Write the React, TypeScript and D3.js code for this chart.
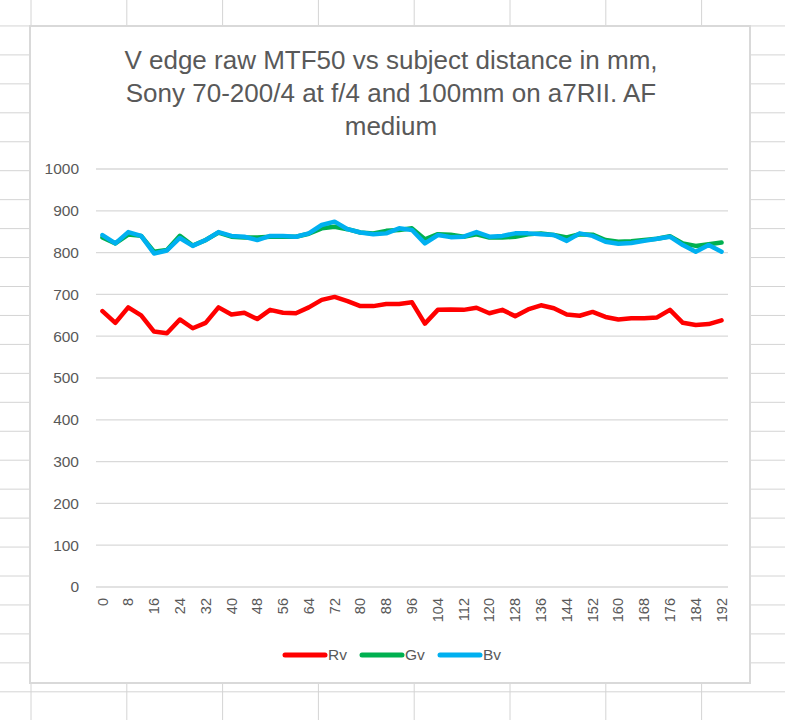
import React from "react";
import * as d3 from "d3";

const distances: number[] = d3.range(0, 193, 4);
const tickLabels: number[] = d3.range(0, 193, 8);
const yTicks: number[] = [0, 100, 200, 300, 400, 500, 600, 700, 800, 900, 1000];

const rv: number[] = [660, 632, 669, 650, 611, 607, 640, 619, 632, 669, 652, 656, 641, 663, 656, 655, 669, 687, 694, 684, 672, 672, 677, 677, 681, 630, 663, 664, 663, 668, 655, 663, 648, 664, 674, 667, 652, 649, 658, 646, 640, 643, 643, 645, 663, 632, 627, 629, 638];
const gv: number[] = [836, 822, 843, 840, 802, 806, 840, 817, 830, 848, 838, 836, 836, 838, 838, 838, 845, 858, 862, 856, 848, 846, 852, 854, 858, 832, 844, 843, 838, 844, 836, 836, 838, 844, 846, 842, 836, 844, 843, 830, 826, 827, 830, 833, 839, 822, 816, 820, 824];
const bv: number[] = [842, 822, 849, 840, 798, 805, 835, 816, 830, 849, 840, 838, 830, 840, 840, 838, 846, 866, 874, 856, 848, 844, 846, 858, 854, 822, 842, 837, 838, 849, 838, 840, 846, 846, 844, 842, 828, 846, 840, 826, 821, 823, 828, 833, 838, 818, 802, 818, 802];

const seriesNames = ["Rv", "Gv", "Bv"];
const seriesColors = ["#FF0000", "#00B050", "#00B0F0"];
const titleLines = [
  "V edge raw MTF50 vs subject distance in mm,",
  "Sony 70-200/4 at f/4 and 100mm on a7RII. AF",
  "medium",
];

const W = 785;
const H = 720;
const FONT = "'Liberation Sans', Arial, sans-serif";
const TXT = "#595959";

export default function App() {
  const x = d3
    .scaleBand<number>()
    .domain(distances)
    .range([96, 728]);
  const y = d3.scaleLinear().domain([0, 1000]).range([587, 169]);
  const cx = (d: number) => (x(d) as number) + x.bandwidth() / 2;

  const line = d3
    .line<number>()
    .x((_, i) => cx(distances[i]))
    .y((v) => y(v));

  const data = [rv, gv, bv];

  const colX = d3.range(31, W, 95.8);
  const rowY = d3.range(-3, H + 1, 28.95);

  const legendX = [285, 362, 440];

  return (
    <svg
      width={W}
      height={H}
      style={{ position: "absolute", left: 0, top: 0, background: "#fff" }}
      fontFamily={FONT}
    >
      <rect x={0} y={0} width={W} height={H} fill="#fff" />
      {colX.map((cxv, i) => (
        <line key={"c" + i} x1={cxv} x2={cxv} y1={0} y2={H} stroke="#d4d4d4" strokeWidth={1} />
      ))}
      {rowY.map((ry, i) => (
        <line key={"r" + i} x1={0} x2={W} y1={ry} y2={ry} stroke="#d4d4d4" strokeWidth={1} />
      ))}
      <rect x={30} y={26} width={720} height={657} fill="#fff" stroke="#d9d9d9" strokeWidth={2} />

      {titleLines.map((t, i) => (
        <text key={"t" + i} x={391} y={69 + i * 33} textAnchor="middle" fontSize={26} fill={TXT}>
          {t}
        </text>
      ))}

      {yTicks.map((t) => (
        <g key={"y" + t}>
          <line x1={96} x2={728} y1={y(t)} y2={y(t)} stroke="#d9d9d9" strokeWidth={1.3} />
          <text x={79} y={y(t)} dy="0.35em" textAnchor="end" fontSize={15.5} fill={TXT}>
            {t}
          </text>
        </g>
      ))}

      {tickLabels.map((t) => (
        <text
          key={"x" + t}
          transform={`translate(${cx(t)},598) rotate(-90)`}
          dy="0.35em"
          textAnchor="end"
          fontSize={14.5}
          fill={TXT}
        >
          {t}
        </text>
      ))}

      {data.map((s, k) => (
        <path
          key={"s" + k}
          d={line(s) as string}
          fill="none"
          stroke={seriesColors[k]}
          strokeWidth={4.5}
          strokeLinejoin="round"
          strokeLinecap="round"
        />
      ))}

      {seriesNames.map((n, k) => (
        <g key={"l" + k}>
          <line
            x1={legendX[k]}
            x2={legendX[k] + 40}
            y1={655}
            y2={655}
            stroke={seriesColors[k]}
            strokeWidth={5}
            strokeLinecap="round"
          />
          <text x={legendX[k] + 43} y={655} dy="0.35em" fontSize={15.5} fill={TXT}>
            {n}
          </text>
        </g>
      ))}
    </svg>
  );
}
